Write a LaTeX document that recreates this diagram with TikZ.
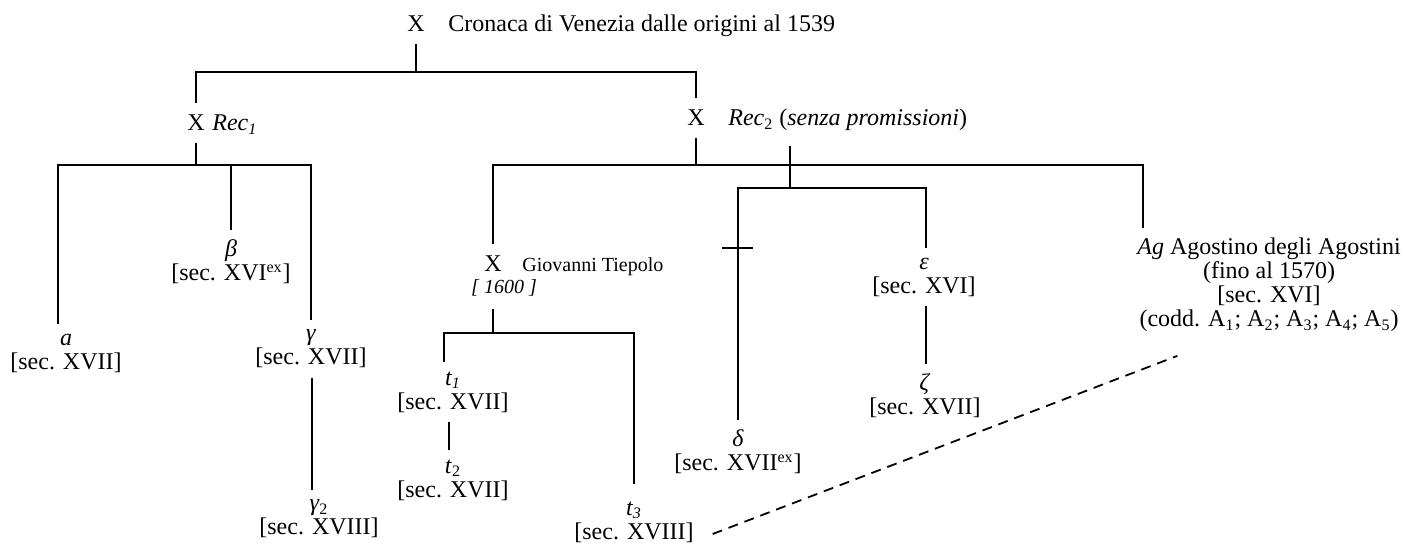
\documentclass[tikz,border=0pt]{standalone}
\usepackage{fontspec}
\setmainfont{Liberation Serif}
\usepackage{tikz}
\usetikzlibrary{positioning,calc}

\tikzset{
  sig/.style={inner sep=0pt, outer sep=6pt, anchor=base},
  lbl/.style={inner sep=0pt, anchor=base west},
  ms/.style={align=center, inner sep=0pt, outer sep=5pt},
  stem/.style={line width=0.9pt},
}

\begin{document}
\begin{tikzpicture}[x=0.5pt, y=-0.5pt, font=\fontsize{12}{12}\selectfont]
            \useasboundingbox (0,0) rectangle (1407,544);
            % archetype and the two recensions
            \node[sig] (root) at (416,32) {X};
            \node[lbl] (root-t) at (448,32) {Cronaca di Venezia dalle origini al 1539};
            \node[sig] (rec1) at (196,131) {X};
            \node[lbl] (rec1-t) at (212,131) {\textit{Rec\textsubscript{1}}};
            \node[sig] (rec2) at (696,126) {X};
            \node[lbl] (rec2-t) at (728,126) {\textit{Rec}\textsubscript{2} (\textit{senza promissioni})};
            % Tiepolo copy
            \node[sig] (tie) at (493,272) {X};
            \node[lbl, font=\fontsize{10}{10}\selectfont] (tie-t) at (522,272) {Giovanni Tiepolo};
            \node[sig, font=\fontsize{10}{10}\selectfont\itshape] (tie-d) at (504,294) {[ 1600 ]};
            % witnesses
            \node[ms] (a) at (66,353) {\textit{a}\\{[sec. XVII]}};
            \node[ms] (be) at (231,262) {\textit{β}\\{[sec. XVI\textsuperscript{ex}]}};
            \node[ms] (ga) at (311,349) {\textit{γ}\\{[sec. XVII]}};
            \node[ms] (gb) at (319,519) {\textit{γ}\textsubscript{2}\\{[sec. XVIII]}};
            \node[ms] (t1) at (453,392) {\textit{t\textsubscript{1}}\\{[sec. XVII]}};
            \node[ms] (t2) at (453,480) {\textit{t}\textsubscript{2}\\{[sec. XVII]}};
            \node[ms] (t3) at (634,522) {\textit{t\textsubscript{3}}\\{[sec. XVIII]}};
            \node[ms] (de) at (738,452) {\textit{δ}\\{[sec. XVII\textsuperscript{ex}]}};
            \node[ms] (ep) at (924,277) {\textit{ε}\\{[sec. XVI]}};
            \node[ms] (ze) at (925,396) {\textit{ζ}\\{[sec. XVII]}};
            \node[ms] (ag) at (1269,285) {\textit{Ag} Agostino degli Agostini\\(fino al 1570)\\{[sec. XVI]}\\(codd. A\textsubscript{1}; A\textsubscript{2}; A\textsubscript{3}; A\textsubscript{4}; A\textsubscript{5})};

            % junctions
            \coordinate (j0) at (416,72);
            \coordinate (j1) at (196,165);
            \coordinate (j2) at (696,165);
            \coordinate (j3) at (493,333);
            \coordinate (k0) at (790,146);
            \coordinate (k1) at (790,188);
            \coordinate (cross) at (738,248);

            \draw[stem] (root) -- (j0);
            \draw[stem] (rec1) |- (j0) -| (rec2);
            % Rec1 branch
            \draw[stem] (rec1) -- (j1);
            \draw[stem] ($(a.north)+(-8,0)$) |- (j1) -| (ga);
            \draw[stem] (be) -- (be |- j1);
            \draw[stem] ($(ga.south)+(1,0)$) -- ($(gb.north)+(-7,0)$);
            % Rec2 branch
            \draw[stem] (rec2) -- (j2);
            \draw[stem] (tie) |- (j2) -| ($(ag.north west)+(16,0)$);
            \draw[stem] (k0) -- (k1);
            \draw[stem] (de) |- (k1) -| ($(ep.north)+(2,0)$);
            \draw[stem] ($(cross)+(-16,0)$) -- ($(cross)+(15,0)$);
            \draw[stem] ($(ep.south)+(2,0)$) -- ($(ze.north)+(1,0)$);
            % Tiepolo branch
            \draw[stem] (tie-d.south -| tie) -- (j3);
            \draw[stem, shorten >=4pt] ($(t1.north)+(-9,0)$) |- (j3) -| (t3);
            \draw[stem] ($(t1.south)+(-4,0)$) -- ($(t2.north)+(-4,0)$);
            % contamination
            \draw[stem, dash pattern=on 5pt off 3.5pt] ($(t3.east)+(9,12)$) -- ($(ag.south west)+(50,14)$);
        \end{tikzpicture}
\end{document}
